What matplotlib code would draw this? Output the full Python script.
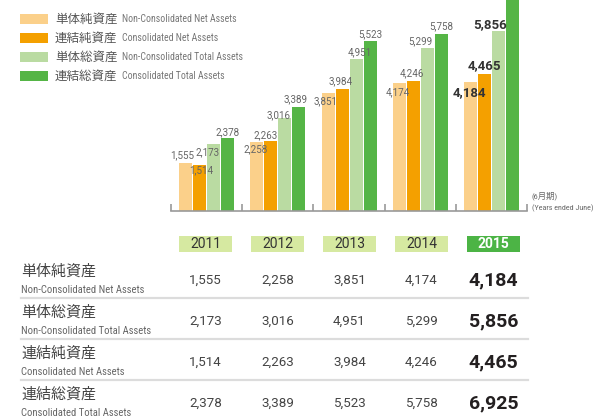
import numpy as np
import matplotlib.pyplot as plt
from matplotlib.patches import Rectangle

plt.rcParams['font.family'] = ['Roboto Condensed', 'Roboto', 'Noto Sans CJK JP', 'DejaVu Sans']
num_font = ['Roboto', 'DejaVu Sans']

years = ['2011', '2012', '2013', '2014', '2015']
series_ja = ['単体純資産', '連結純資産', '単体総資産', '連結総資産']
series_en = ['Non-Consolidated Net Assets', 'Consolidated Net Assets',
             'Non-Consolidated Total Assets', 'Consolidated Total Assets']
nonconsol_net = [1555, 2258, 3851, 4174, 4184]
consol_net = [1514, 2263, 3984, 4246, 4465]
nonconsol_total = [2173, 3016, 4951, 5299, 5856]
consol_total = [2378, 3389, 5523, 5758, 6925]

series = [nonconsol_net, consol_net, nonconsol_total, consol_total]
colors = ['#fbd08a', '#f4a000', '#badba2', '#55b546']

# label nudges in pixels (dx, dy up), None = no label (clipped bar)
nudges = [
    [(-3, 8), (-1, -8), (-2, -8), (-1.5, -9), (-1, -10)],
    [(2, -5.5), (-5, 6), (-1, 7), (-1, 7), (0, 8)],
    [(-6, -8), (-6, 3), (4, 7), (-7, 7), (-8, 7)],
    [(0, 6), (-3, 8), (0, 7), (0, 8), None],
]

# table rows are in a different order than the bars
table_order = [0, 2, 1, 3]

fig = plt.figure(figsize=(6, 4.18), dpi=100)

# overlay in pixel coordinates for legend and table
ov = fig.add_axes([0, 0, 1, 1])
ov.set_xlim(0, 600)
ov.set_ylim(418, 0)
ov.axis('off')

# bar chart
ax = fig.add_axes([171 / 600, 1 - 211 / 418, 356 / 600, 211 / 418])
ax.patch.set_visible(False)
x = np.arange(len(years))
step = 14 / 71.2
width = 13 / 71.2
for k, vals in enumerate(series):
    pos = x + (k - 1.5) * step
    ax.bar(pos, vals, width=width, color=colors[k], linewidth=0)
    for i, v in enumerate(vals):
        if nudges[k][i] is None:
            continue
        dx, dy = nudges[k][i]
        last = i == len(years) - 1
        ax.annotate('{:,}'.format(v), (pos[i], v), xytext=(dx, dy),
                    textcoords='offset pixels', ha='center', va='center',
                    family=num_font,
                    fontsize=9.5 if last else 7.1,
                    fontweight='bold' if last else 'normal',
                    color='#333333' if last else '#666666')
ax.set_xlim(-0.5, 4.5)
ax.set_ylim(0, 6870)
for s in ['top', 'right', 'left']:
    ax.spines[s].set_visible(False)
ax.spines['bottom'].set_color('#999999')
ax.spines['bottom'].set_linewidth(1.2)
ax.set_yticks([])
ax.set_xticks(np.arange(-0.5, 5, 1))
ax.tick_params(axis='x', direction='in', length=5, width=1.2,
               color='#999999', labelbottom=False)

ov.text(532, 196, '(6月期)', fontsize=6, color='#666666', va='center')
ov.text(532, 208, '(Years ended June)', fontsize=5.8, color='#666666', va='center')

# legend
for k in range(4):
    yy = 19 + 19 * k
    ov.add_patch(Rectangle((20, yy - 5), 28, 10, color=colors[k], lw=0))
    ov.text(55, yy, series_ja[k], fontsize=9, color='#555555', va='center')
    ov.text(122, yy, series_en[k], fontsize=7.1, color='#777777', va='center')

# table
col_x = [205.5 + 72 * i for i in range(len(years))]
for i, yr in enumerate(years):
    last = i == len(years) - 1
    ov.add_patch(Rectangle((col_x[i] - 26.5, 236), 53, 16, lw=0,
                           color='#4cb445' if last else '#d6e9a1'))
    ov.text(col_x[i], 244, yr, ha='center', va='center', fontsize=10,
            family=num_font,
            color='white' if last else '#333333',
            fontweight='bold' if last else 'normal')

for r, k in enumerate(table_order):
    ry = 280 + 41 * r
    ov.text(21, ry - 8.5, series_ja[k], fontsize=10.8, color='#444444', va='center')
    ov.text(21, ry + 10, series_en[k], fontsize=7.7, color='#666666', va='center')
    for i, v in enumerate(series[k]):
        last = i == len(years) - 1
        ov.text(col_x[i], ry, '{:,}'.format(v), ha='center', va='center',
                family=num_font,
                fontsize=14 if last else 9.6,
                fontweight='bold' if last else 'normal',
                color='#231f20' if last else '#444444')
    if r < 3:
        ov.plot([21, 528], [ry + 18, ry + 18], color='#dcdcdc', lw=1.6)

fig.savefig('out.png', dpi=100)
